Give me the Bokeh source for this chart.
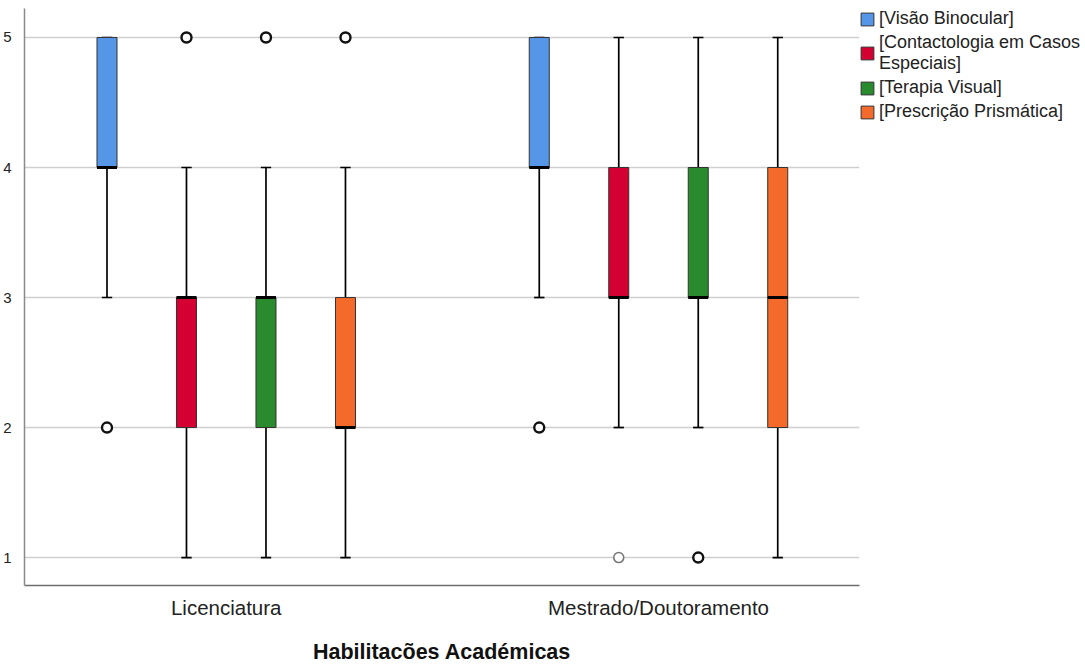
from bokeh.plotting import figure
from bokeh.models import (ColumnDataSource, Range1d, FixedTicker, Legend, LegendItem)
from bokeh.embed import file_html
from bokeh.resources import INLINE

# ---------------- data ----------------
groups = ["Licenciatura", "Mestrado/Doutoramento"]
series = ["[Visão Binocular]", "[Contactologia em Casos\nEspeciais]",
          "[Terapia Visual]", "[Prescrição Prismática]"]
colors = ["#5597E6", "#D50032", "#2A8A2E", "#F36A2A"]

# statistics per group, per series
lower_whisker = [[3, 1, 1, 1], [3, 2, 2, 1]]
q1            = [[4, 2, 2, 2], [4, 3, 3, 2]]
median        = [[4, 3, 3, 2], [4, 3, 3, 3]]
q3            = [[5, 3, 3, 3], [5, 4, 4, 4]]
upper_whisker = [[5, 4, 4, 4], [5, 5, 5, 5]]

outlier_group  = [0, 0, 0, 0, 1, 1, 1]
outlier_series = [0, 1, 2, 3, 0, 1, 2]
outlier_value  = [2, 5, 5, 5, 2, 1, 1]
outlier_faint  = [False, False, False, False, False, True, False]

y_ticks = [1, 2, 3, 4, 5]

# ---------------- layout constants ----------------
group_pos = [0, 1]
spacing = 0.1839
box_w = 0.0463
cap_w = 0.024
FONT = "Liberation Sans"

p = figure(output_backend="svg", toolbar_location=None,
           frame_width=835, frame_height=577,
           x_range=Range1d(-0.4667, 1.465), y_range=Range1d(0.785, 5.223),
           min_border_left=17, min_border_top=8, min_border_right=0,
           min_border_bottom=0, background_fill_color="white",
           border_fill_color="white", outline_line_color=None)

p.xgrid.visible = False
p.ygrid.grid_line_color = "#CFCFCF"
p.ygrid.grid_line_width = 1.5
p.ygrid.ticker = FixedTicker(ticks=y_ticks)

p.yaxis.ticker = FixedTicker(ticks=y_ticks)
p.yaxis.axis_line_color = "#8A8A8A"
p.yaxis.axis_line_width = 1.5
p.yaxis.major_tick_line_color = None
p.yaxis.minor_tick_line_color = None
p.yaxis.major_label_standoff = 7
p.yaxis.major_label_text_font = FONT
p.yaxis.major_label_text_font_size = "15px"
p.yaxis.major_label_text_color = "#222222"

p.xaxis.ticker = FixedTicker(ticks=group_pos)
p.xaxis.major_label_overrides = {0: groups[0], 1: groups[1]}
p.xaxis.axis_line_color = "#6E6E6E"
p.xaxis.axis_line_width = 1.5
p.xaxis.major_tick_line_color = None
p.xaxis.minor_tick_line_color = None
p.xaxis.major_label_standoff = 4
p.xaxis.major_label_text_font = FONT
p.xaxis.major_label_text_font_size = "20.5px"
p.xaxis.major_label_text_color = "#222222"
p.xaxis.axis_label = "Habilitacões Académicas"
p.xaxis.axis_label_text_font = FONT
p.xaxis.axis_label_text_font_style = "bold"
p.xaxis.axis_label_text_font_size = "21.5px"
p.xaxis.axis_label_text_color = "#111111"
p.xaxis.axis_label_standoff = 18

items = []
for s, name in enumerate(series):
    xs = [group_pos[g] + (s - 1.5) * spacing for g in range(len(groups))]
    src = ColumnDataSource(dict(
        x=xs,
        lw=[lower_whisker[g][s] for g in range(len(groups))],
        q1=[q1[g][s] for g in range(len(groups))],
        med=[median[g][s] for g in range(len(groups))],
        q3=[q3[g][s] for g in range(len(groups))],
        uw=[upper_whisker[g][s] for g in range(len(groups))],
        cl=[x - cap_w / 2 for x in xs],
        cr=[x + cap_w / 2 for x in xs],
        bl=[x - box_w / 2 for x in xs],
        br=[x + box_w / 2 for x in xs],
    ))
    # whiskers
    p.segment(x0="x", y0="lw", x1="x", y1="q1", source=src,
              line_color="black", line_width=1.7)
    p.segment(x0="x", y0="q3", x1="x", y1="uw", source=src,
              line_color="black", line_width=1.7)
    # caps
    p.segment(x0="cl", y0="lw", x1="cr", y1="lw", source=src,
              line_color="black", line_width=1.7)
    p.segment(x0="cl", y0="uw", x1="cr", y1="uw", source=src,
              line_color="black", line_width=1.7)
    # boxes
    r = p.vbar(x="x", width=box_w, bottom="q1", top="q3", source=src,
               fill_color=colors[s], line_color="#333333", line_width=1)
    # median
    p.segment(x0="bl", y0="med", x1="br", y1="med", source=src,
              line_color="black", line_width=3)
    items.append(LegendItem(label=name, renderers=[r]))

# outliers
ox = [group_pos[g] + (s - 1.5) * spacing for g, s in zip(outlier_group, outlier_series)]
strong = ColumnDataSource(dict(
    x=[x for x, f in zip(ox, outlier_faint) if not f],
    y=[v for v, f in zip(outlier_value, outlier_faint) if not f]))
faint = ColumnDataSource(dict(
    x=[x for x, f in zip(ox, outlier_faint) if f],
    y=[v for v, f in zip(outlier_value, outlier_faint) if f]))
p.scatter(x="x", y="y", source=strong, size=10, marker="circle",
          fill_color="white", line_color="#111111", line_width=2.4)
p.scatter(x="x", y="y", source=faint, size=10, marker="circle",
          fill_color="white", line_color="#777777", line_width=1.6)

legend = Legend(items=items, location="top_left", orientation="vertical")
legend.border_line_color = None
legend.background_fill_alpha = 0
legend.margin = 0
legend.padding = 3
legend.spacing = 3
legend.glyph_width = 16
legend.glyph_height = 16
legend.label_standoff = 4
legend.label_text_font = FONT
legend.label_text_font_size = "18px"
legend.label_text_color = "#222222"
legend.label_text_line_height = 1.0
p.add_layout(legend, "right")

open("out.html", "w").write(file_html(p, INLINE))
